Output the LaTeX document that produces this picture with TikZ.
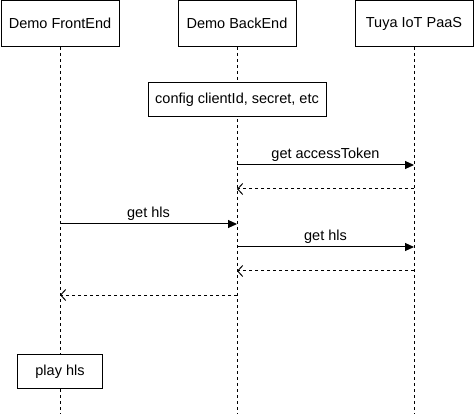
\documentclass[tikz,border=0pt]{standalone}
\usepackage{fontspec}
\setmainfont{Liberation Sans}
\usetikzlibrary{arrows.meta}
\begin{document}
\begin{tikzpicture}[x=1pt,y=-1pt,
  txt/.style={font=\fontsize{14.5}{17}\selectfont},
  actor/.style={draw, line width=1pt, fill=white, minimum width=118pt, minimum height=46pt, inner sep=0pt, txt},
  actbox/.style={draw, line width=1pt, fill=white, minimum height=34pt, inner sep=0pt, txt},
  life/.style={line width=1pt, dash pattern=on 3pt off 3pt},
  msg/.style={line width=1pt, -{Triangle[length=9pt,width=8pt]}},
  ret/.style={line width=1pt, dash pattern=on 3pt off 3pt, -{Straight Barb[length=5pt,width=11pt,line width=1pt]}},
  lbl/.style={above, inner sep=3pt, txt}]
\fill[white] (0,0) rectangle (474,414);
\useasboundingbox (0,0) rectangle (474,414);
% lifeline ends
\coordinate (feEnd) at (60,414);
\coordinate (beEnd) at (237,414);
\coordinate (paEnd) at (414,414);
% actors
\node[actor] (fe) at (60,23.5) {Demo FrontEnd};
\node[actor] (be) at (237,23.5) {Demo BackEnd};
\node[actor] (pa) at (414,23.5) {Tuya IoT PaaS};
% lifelines
\draw[life] (fe.south) -- (feEnd);
\draw[life] (be.south) -- (beEnd);
\draw[life] (pa.south) -- (paEnd);
% activity boxes
\node[actbox, minimum width=178pt] (cfg) at (237,100) {config clientId, secret, etc};
\node[actbox, minimum width=85pt] (play) at (60,371.5) {play hls};
% message points
\coordinate (be1) at (237,165); \coordinate (pa1) at (414,165);
\coordinate (be2) at (237,189); \coordinate (pa2) at (414,189);
\coordinate (fe3) at (60,224);  \coordinate (be3) at (237,224);
\coordinate (be4) at (237,247); \coordinate (pa4) at (414,247);
\coordinate (be5) at (237,271); \coordinate (pa5) at (414,271);
\coordinate (fe6) at (60,295);  \coordinate (be6) at (237,295);
% messages
\draw[msg] (be1) -- node[lbl] {get accessToken} (pa1);
\draw[ret] (pa2) -- (be2);
\draw[msg] (fe3) -- node[lbl] {get hls} (be3);
\draw[msg] (be4) -- node[lbl] {get hls} (pa4);
\draw[ret] (pa5) -- (be5);
\draw[ret] (be6) -- (fe6);
\end{tikzpicture}
\end{document}
